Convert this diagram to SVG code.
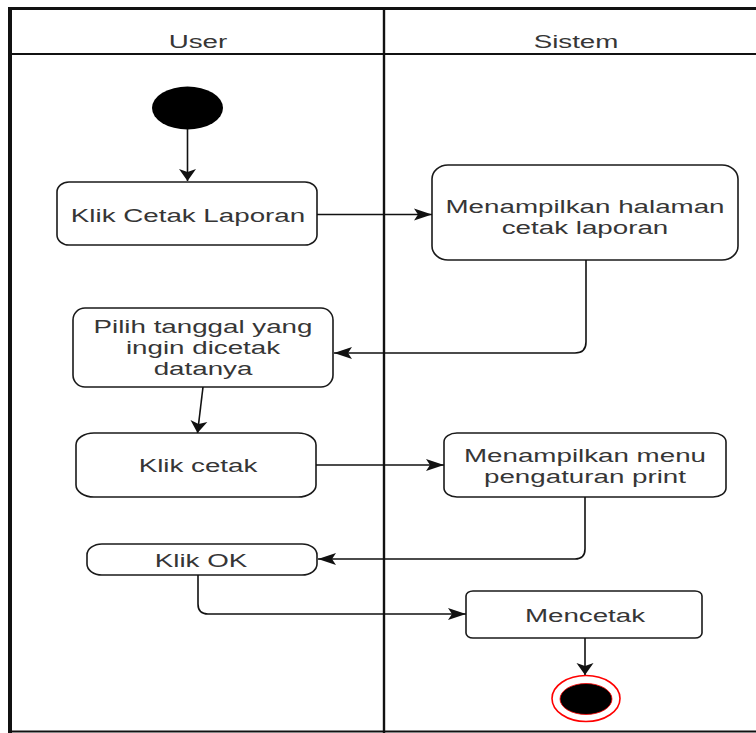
<svg xmlns="http://www.w3.org/2000/svg" width="756" height="733" viewBox="0 0 756 733">
  <defs>
    <!-- arrowheads: wide/short for vertical flows, long/narrow for horizontal flows -->
    <marker id="arrowH" markerUnits="userSpaceOnUse" markerWidth="19" markerHeight="13" refX="18" refY="6" orient="auto" overflow="visible">
      <path d="M0,0 L18,6 L0,12 L4,6 Z" fill="#111"/>
    </marker>
    <marker id="arrowV" markerUnits="userSpaceOnUse" markerWidth="13" markerHeight="19" refX="12" refY="8.5" orient="auto" overflow="visible">
      <path d="M0,0 L12,8.5 L0,17 L3,8.5 Z" fill="#111"/>
    </marker>
    <style>
      .frame { stroke: #111; fill: none; }
      .node rect { fill: #fff; stroke: #1a1a1a; stroke-width: 1.6; }
      .lbl { font-family: "Liberation Sans", Arial, Helvetica, sans-serif; font-size: 19px; fill: #363636; text-anchor: middle; }
      .edge { fill: none; stroke: #111; stroke-width: 1.6; }
    </style>
  </defs>

  <rect x="0" y="0" width="756" height="733" fill="#fff"/>

  <!-- swimlane frame -->
  <g id="swimlanes">
    <line class="frame" x1="8" y1="8.5" x2="756" y2="8.5" stroke-width="3"/>
    <line class="frame" x1="10" y1="7" x2="10" y2="733" stroke-width="4"/>
    <line class="frame" x1="10" y1="54" x2="756" y2="54" stroke-width="2.2" stroke="#333"/>
    <line class="frame" x1="384" y1="8" x2="384" y2="733" stroke-width="2.4"/>
    <line class="frame" x1="10" y1="731.5" x2="756" y2="731.5" stroke-width="2" stroke="#444"/>
    <text class="lbl" transform="translate(198,48) scale(1.46,1)">User</text>
    <text class="lbl" transform="translate(576,48) scale(1.46,1)">Sistem</text>
  </g>

  <!-- activity nodes -->
  <g id="start">
    <ellipse cx="187.5" cy="108" rx="35.5" ry="21.5" fill="#000"/>
  </g>

  <g id="klik-cetak-laporan" class="node">
    <rect x="57" y="182" width="260" height="63" rx="12" ry="10"/>
    <text class="lbl" transform="translate(188,222) scale(1.46,1)">Klik Cetak Laporan</text>
  </g>

  <g id="tampil-halaman" class="node">
    <rect x="432" y="165" width="306" height="95" rx="16" ry="14"/>
    <text class="lbl" transform="translate(585,212.5) scale(1.46,1)">Menampilkan halaman</text>
    <text class="lbl" transform="translate(585,233.5) scale(1.46,1)">cetak laporan</text>
  </g>

  <g id="pilih-tanggal" class="node">
    <rect x="73" y="308" width="260" height="79" rx="12" ry="12"/>
    <text class="lbl" transform="translate(203,333) scale(1.46,1)">Pilih tanggal yang</text>
    <text class="lbl" transform="translate(203,354) scale(1.46,1)">ingin dicetak</text>
    <text class="lbl" transform="translate(203,375) scale(1.46,1)">datanya</text>
  </g>

  <g id="klik-cetak" class="node">
    <rect x="76" y="433" width="240" height="64" rx="18" ry="12"/>
    <text class="lbl" transform="translate(198,472) scale(1.46,1)">Klik cetak</text>
  </g>

  <g id="tampil-menu" class="node">
    <rect x="444" y="433" width="282" height="64" rx="13" ry="9"/>
    <text class="lbl" transform="translate(585,462) scale(1.46,1)">Menampilkan menu</text>
    <text class="lbl" transform="translate(585,483) scale(1.46,1)">pengaturan print</text>
  </g>

  <g id="klik-ok" class="node">
    <rect x="87" y="544" width="230" height="31" rx="15" ry="11"/>
    <text class="lbl" transform="translate(201,567) scale(1.46,1)">Klik OK</text>
  </g>

  <g id="mencetak" class="node">
    <rect x="466" y="591" width="236" height="47" rx="7" ry="5"/>
    <text class="lbl" transform="translate(585,622) scale(1.46,1)">Mencetak</text>
  </g>

  <g id="end">
    <ellipse cx="586" cy="698.5" rx="34" ry="23" fill="#fff" stroke="#ff0000" stroke-width="1.6"/>
    <ellipse cx="586" cy="699" rx="26" ry="15.5" fill="#000" stroke="#ff0000" stroke-width="0.8"/>
  </g>

  <!-- control flows -->
  <g id="connectors">
    <path class="edge" d="M187.5,129 V181" marker-end="url(#arrowV)"/>
    <path class="edge" d="M317,214.5 H432" marker-end="url(#arrowH)"/>
    <path class="edge" d="M586,260 V342 Q586,353 575,353 H334" marker-end="url(#arrowH)"/>
    <path class="edge" d="M203,387 L197.5,433" marker-end="url(#arrowV)"/>
    <path class="edge" d="M316,465 H444" marker-end="url(#arrowH)"/>
    <path class="edge" d="M585,497 V549 Q585,559 575,559 H318" marker-end="url(#arrowH)"/>
    <path class="edge" d="M198,575 V604 Q198,614 208,614 H466" marker-end="url(#arrowH)"/>
    <path class="edge" d="M585,638 V675" marker-end="url(#arrowV)"/>
  </g>
</svg>
